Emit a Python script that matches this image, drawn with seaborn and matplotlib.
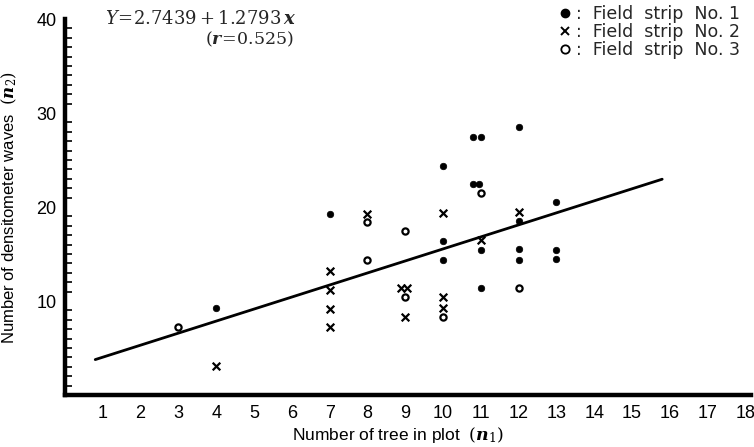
import numpy as np
import pandas as pd
import matplotlib
matplotlib.use("Agg")
import matplotlib.pyplot as plt
import seaborn as sns
from matplotlib.lines import Line2D
from matplotlib.ticker import MultipleLocator

# ---- data ----
strip1_x = [4, 7, 10, 10, 10, 10.8, 11.0, 10.8, 10.95, 11, 11, 12, 12, 12, 12, 13, 13, 13]
strip1_y = [9.3, 19.3, 24.4, 16.4, 14.4, 27.5, 27.5, 22.4, 22.4, 15.4, 11.4, 28.5, 18.5, 15.5, 14.4, 20.5, 15.4, 14.5]
strip2_x = [4, 7, 7, 7, 7, 8, 8.9, 9.05, 9, 10, 10, 10, 11, 12]
strip2_y = [3.1, 13.2, 11.2, 9.2, 7.2, 19.3, 11.35, 11.35, 8.3, 19.4, 10.4, 9.3, 16.5, 19.5]
strip3_x = [3, 8, 8, 9, 9, 10, 11, 12]
strip3_y = [7.2, 18.4, 14.4, 17.5, 10.4, 8.3, 21.5, 11.4]
reg_intercept = 2.7439
reg_slope = 1.2793
reg_range = [0.8, 15.8]
x_ticks = list(range(1, 19))
y_ticks = [10, 20, 30, 40]
legend_labels = [":  Field  strip  No. 1", ":  Field  strip  No. 2", ":  Field  strip  No. 3"]

sns.set_theme(style="white")
plt.rcParams['font.family'] = ['Liberation Sans', 'DejaVu Sans']
plt.rcParams['mathtext.fontset'] = 'dejavuserif'

fig = plt.figure(figsize=(7.54, 4.47), dpi=100)
ax = fig.add_axes([65/754, 52/447, 686/754, 376/447])

df1 = pd.DataFrame({"x": strip1_x, "y": strip1_y})
df2 = pd.DataFrame({"x": strip2_x, "y": strip2_y})
df3 = pd.DataFrame({"x": strip3_x, "y": strip3_y})

sns.scatterplot(data=df1, x="x", y="y", ax=ax, marker="o", s=22, color="black",
                edgecolor="black", linewidth=0.5)
sns.scatterplot(data=df2, x="x", y="y", ax=ax, marker="x", s=30, color="black",
                linewidth=1.6)
sns.scatterplot(data=df3, x="x", y="y", ax=ax, marker="o", s=20, facecolor="white",
                edgecolor="black", linewidth=1.6)

lx = np.array(reg_range)
ly = reg_intercept + reg_slope * lx
sns.lineplot(x=lx, y=ly, ax=ax, color="black", linewidth=2.0)

ax.set_xlim(0, 18.15)
ax.set_ylim(0, 40)
ax.set_xticks(x_ticks)
ax.set_yticks(y_ticks)
ax.yaxis.set_minor_locator(MultipleLocator(1))
ax.tick_params(axis="both", which="both", direction="in", color="black")
ax.tick_params(axis="x", which="major", length=5, width=1.2, pad=7,
               labelsize=13, labelcolor="black")
ax.tick_params(axis="y", which="major", length=6, width=2, pad=6,
               labelsize=13, labelcolor="black")
ax.tick_params(axis="y", which="minor", length=5, width=1.2, left=True)
for lab in ax.get_xticklabels() + ax.get_yticklabels():
    lab.set_family(['Liberation Sans Narrow', 'Liberation Sans', 'DejaVu Sans'])

for s in ["top", "right"]:
    ax.spines[s].set_visible(False)
for s in ["left", "bottom"]:
    ax.spines[s].set_linewidth(3.2)
    ax.spines[s].set_color("black")

ax.set_xlabel(r"Number of tree in plot  $(\boldsymbol{n}_1)$", fontsize=12.5, color="black")
ax.xaxis.set_label_coords((398 - 65) / 686, -30 / 376)
ax.set_ylabel(r"Number of densitometer waves  $(\boldsymbol{n}_2)$", fontsize=12, color="black")
ax.yaxis.set_label_coords(-46 / 686, 0.5)

fig.text(105/754, 1 - 19/447, r"$Y\!=\!2.7439+1.2793\,\boldsymbol{x}$",
         fontsize=13, va="center", ha="left")
fig.text(205/754, 1 - 39/447, r"$(\boldsymbol{r}\!=\!0.525)$",
         fontsize=12.5, va="center", ha="left")

handles = [
    Line2D([], [], marker="o", linestyle="none", markersize=6, markerfacecolor="black", markeredgecolor="black"),
    Line2D([], [], marker="x", linestyle="none", markersize=6, markeredgewidth=1.4, color="black"),
    Line2D([], [], marker="o", linestyle="none", markersize=6, markerfacecolor="white", markeredgecolor="black", markeredgewidth=1.3),
]
leg = fig.legend(handles, legend_labels, loc="upper right", bbox_to_anchor=(752/754, 1 + 7/447),
                 frameon=False, handlelength=0.8, handletextpad=0.2,
                 labelspacing=0.0, borderpad=0.2,
                 prop={"family": "DejaVu Sans", "size": 12.5})

fig.savefig("out.png", dpi=100)
